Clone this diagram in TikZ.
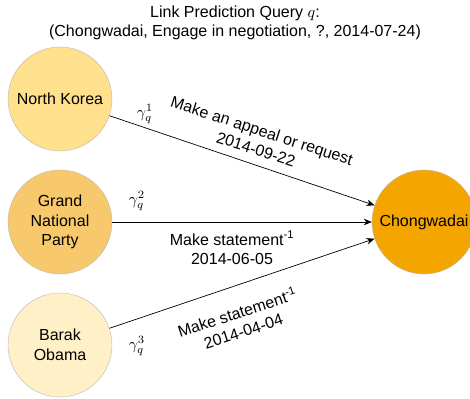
\documentclass[tikz,border=0pt]{standalone}
\usepackage{fontspec}
\setmainfont{Liberation Sans}
\usetikzlibrary{arrows.meta}
\definecolor{nkfill}{HTML}{FFE08C}
\definecolor{gnpfill}{HTML}{F8C96C}
\definecolor{bofill}{HTML}{FFF0C8}
\definecolor{chfill}{HTML}{F5A500}
\tikzset{
  entity/.style={circle, minimum size=104pt, inner sep=0pt, draw=black!28, line width=0.4pt, align=center, font=\fontsize{16}{19.5}\selectfont},
  rel/.style={-{Stealth[length=8pt,width=6.5pt,inset=2.5pt]}, line width=0.7pt, black},
  lbl/.style={align=center, inner sep=0pt, font=\fontsize{16}{19.5}\selectfont},
  gam/.style={inner sep=0pt, font=\normalsize, scale=1.6}
}
\begin{document}
\begin{tikzpicture}[x=1pt,y=-1pt]
\clip (0,0) rectangle (470,398);
\useasboundingbox (0,0) rectangle (470,398);
\node[lbl] (title) at (235,23) {Link Prediction Query \scalebox{1.6}{\normalsize$q$}:\\(Chongwadai, Engage in negotiation, ?, 2014-07-24)};
\node[entity, fill=nkfill] (nk) at (60,99) {North Korea};
\node[entity, fill=gnpfill] (gnp) at (60,222) {Grand\\National\\Party};
\node[entity, fill=bofill] (bo) at (60,345) {Barak\\Obama};
\node[entity, fill=chfill] (ch) at (424,222) {Chongwadai};
\draw[rel] (nk) -- (ch);
\draw[rel] (gnp) -- (ch);
\draw[rel] (bo) -- (ch);
\node[lbl, rotate=-18] (l1) at (259,140) {Make an appeal or request\\2014-09-22};
\node[lbl] (l2) at (232,248) {Make statement\textsuperscript{-1}\\2014-06-05};
\node[lbl, rotate=18] (l3) at (240,321) {Make statement\textsuperscript{-1}\\2014-04-04};
\node[gam] (g1) at (145,114) {$\gamma_q^1$};
\node[gam] (g2) at (137,201) {$\gamma_q^2$};
\node[gam] (g3) at (137,346) {$\gamma_q^3$};
\end{tikzpicture}
\end{document}
